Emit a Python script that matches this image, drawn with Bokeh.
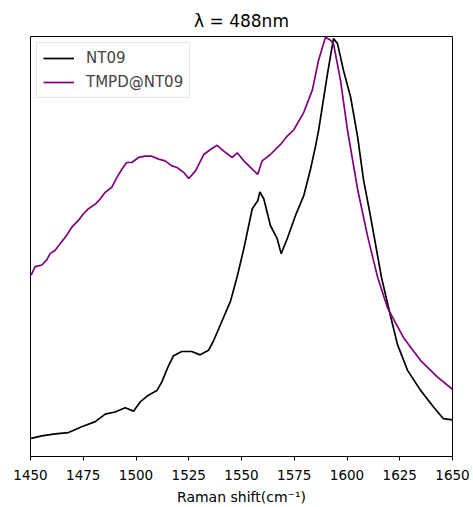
from bokeh.plotting import figure
from bokeh.models import Range1d, FixedTicker, Legend, LegendItem
from bokeh.embed import file_html
from bokeh.resources import INLINE

# Raman shift (cm^-1) and normalized intensity
nt09_x = [1450.3, 1455.4, 1461.7, 1468.0, 1474.3, 1480.7, 1485.4, 1490.1, 1494.9, 1498.8,
          1502.0, 1505.9, 1509.9, 1512.2, 1515.4, 1517.8, 1521.7, 1526.4, 1530.4, 1534.4,
          1536.7, 1539.1, 1544.8, 1548.0, 1551.1, 1555.1, 1557.7, 1558.7, 1560.6, 1563.7,
          1566.9, 1568.8, 1571.7, 1575.6, 1579.5, 1582.7, 1585.1, 1586.6, 1590.8, 1593.6,
          1595.5, 1598.3, 1601.7, 1605.0, 1607.8, 1611.1, 1616.4, 1620.6, 1623.9, 1628.7,
          1634.8, 1641.0, 1645.7, 1650.0]
nt09_y = [0.043, 0.049, 0.054, 0.057, 0.071, 0.083, 0.101, 0.106, 0.116, 0.108,
          0.130, 0.146, 0.157, 0.177, 0.216, 0.240, 0.250, 0.250, 0.242, 0.253,
          0.275, 0.303, 0.370, 0.429, 0.495, 0.590, 0.609, 0.630, 0.613, 0.550,
          0.519, 0.483, 0.519, 0.574, 0.621, 0.684, 0.739, 0.778, 0.913, 0.995,
          0.983, 0.920, 0.856, 0.762, 0.660, 0.573, 0.425, 0.335, 0.267, 0.205,
          0.158, 0.118, 0.090, 0.087]

tmpd_x = [1450.3, 1452.2, 1455.4, 1457.7, 1459.3, 1461.7, 1464.1, 1467.2, 1469.6, 1472.7,
          1475.1, 1477.5, 1480.7, 1483.0, 1485.4, 1488.5, 1490.9, 1493.3, 1495.6, 1498.0,
          1501.2, 1504.4, 1507.5, 1510.7, 1513.8, 1517.0, 1519.5, 1522.7, 1525.0, 1528.2,
          1532.1, 1535.3, 1538.5, 1541.6, 1545.6, 1548.0, 1551.1, 1555.1, 1557.7, 1559.8,
          1563.7, 1568.5, 1571.7, 1574.8, 1579.4, 1583.6, 1586.5, 1589.8, 1592.2, 1593.6,
          1596.9, 1600.2, 1605.0, 1609.7, 1614.5, 1619.2, 1626.8, 1634.8, 1642.9, 1650.0]
tmpd_y = [0.432, 0.452, 0.456, 0.468, 0.483, 0.491, 0.507, 0.527, 0.546, 0.562,
          0.578, 0.590, 0.601, 0.613, 0.629, 0.641, 0.664, 0.684, 0.700, 0.700,
          0.712, 0.715, 0.715, 0.708, 0.704, 0.692, 0.688, 0.676, 0.662, 0.680,
          0.719, 0.731, 0.741, 0.727, 0.712, 0.723, 0.704, 0.684, 0.672, 0.704,
          0.719, 0.743, 0.763, 0.778, 0.818, 0.873, 0.943, 0.998, 0.991, 0.983,
          0.896, 0.778, 0.637, 0.526, 0.427, 0.354, 0.283, 0.229, 0.189, 0.160]

x_ticks = [1450, 1475, 1500, 1525, 1550, 1575, 1600, 1625, 1650]
series_names = ["NT09", "TMPD@NT09"]
series_colors = ["black", "#800080"]

FONT = "DejaVu Sans"

p = figure(width=470, height=507, output_backend="svg", toolbar_location=None,
           x_range=Range1d(1450, 1650), y_range=Range1d(0, 1.0),
           min_border_left=30, min_border_right=18, min_border_top=36, min_border_bottom=47)

p.title.text = "\u03bb = 488nm"
p.title.align = "center"
p.title.text_font = FONT
p.title.text_font_style = "normal"
p.title.text_font_size = "17px"
p.title.text_color = "black"
p.title.standoff = 12

p.xgrid.visible = False
p.ygrid.visible = False
p.yaxis.visible = False
p.outline_line_color = "black"
p.outline_line_width = 1
p.outline_line_alpha = 1

ax = p.xaxis[0]
ax.ticker = FixedTicker(ticks=x_ticks)
ax.minor_tick_line_color = None
ax.major_tick_out = 4
ax.major_tick_in = 0
ax.axis_line_color = "black"
ax.major_tick_line_color = "black"
ax.major_label_text_font = FONT
ax.major_label_text_font_size = "13.5px"
ax.major_label_text_color = "black"
ax.major_label_standoff = 9
ax.axis_label = "Raman shift(cm\u207b\u00b9)"
ax.axis_label_text_font = FONT
ax.axis_label_text_font_size = "14px"
ax.axis_label_text_font_style = "normal"
ax.axis_label_text_color = "black"
ax.axis_label_standoff = 6

r1 = p.line(nt09_x, nt09_y, line_color=series_colors[0], line_width=1.7)
r2 = p.line(tmpd_x, tmpd_y, line_color=series_colors[1], line_width=1.7)

legend = Legend(items=[LegendItem(label=series_names[0], renderers=[r1]),
                       LegendItem(label=series_names[1], renderers=[r2])],
                location="top_left")
legend.label_text_font = FONT
legend.label_text_font_size = "15px"
legend.label_standoff = 12
legend.glyph_width = 31
legend.glyph_height = 16
legend.label_height = 18
legend.spacing = 6
legend.padding = 6
legend.margin = 6
legend.border_line_color = "#cccccc"
legend.border_line_width = 1
legend.background_fill_alpha = 0.8
p.add_layout(legend)

open("out.html", "w").write(file_html(p, INLINE))
